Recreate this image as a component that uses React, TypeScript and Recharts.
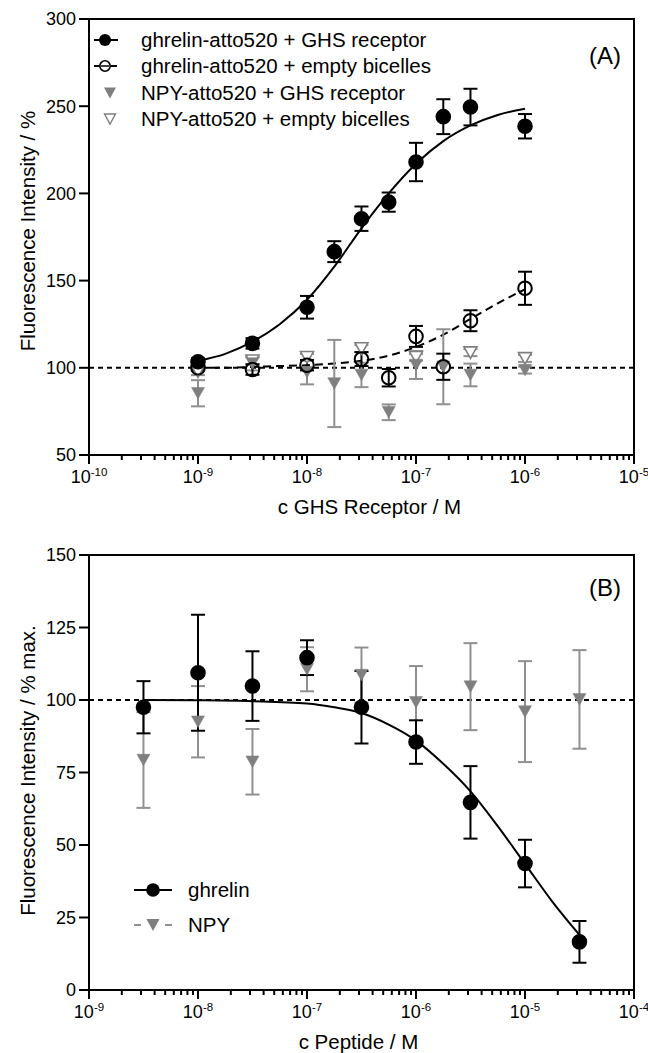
import React from 'react';
import {
  ComposedChart,
  Scatter,
  Line,
  XAxis,
  YAxis,
  ErrorBar,
  ReferenceLine,
  ReferenceArea,
  Legend,
} from 'recharts';

const FONT = '"Liberation Sans", Arial, Helvetica, sans-serif';
const BLACK = '#000000';
const GRAY = '#7f7f7f';
const GRAY_BAR = '#909090';

// ---------- Panel A data ----------
const concA = [1e-9, 3.16e-9, 1e-8, 1.78e-8, 3.16e-8, 5.62e-8, 1e-7, 1.78e-7, 3.16e-7, 1e-6];
const ghrelinGhsA = [103.5, 114, 134.7, 166.6, 185.5, 195, 218, 244, 249.5, 238.5];
const ghrelinGhsErrA = [2, 3, 6.5, 6, 7, 5.5, 11, 10, 10.5, 7];
const ghrelinEmptyA = [100, 99, 101.5, null, 105, 94.3, 118, 100.6, 127, 145.6];
const ghrelinEmptyErrA = [1.5, 3, 3, null, 4, 5, 6, 7.5, 6, 9.5];
const npyGhsA = [85.4, 102.5, 97.5, 91, 95.9, 74.5, 101.6, 100.6, 95.9, 98.7];
const npyGhsErrA = [7.5, 4, 7, 25, 7, 4.5, 8, 21.5, 6.5, 2];
const npyEmptyA = [97.8, 104, 106, null, 111, null, 106, null, 108.7, 105.4];
const npyEmptyErrA = [2, 2, 2, null, 2, null, 2, null, 2, 2];

// fitted curves
const fitXA = [1e-9, 1.78e-9, 3.16e-9, 5.62e-9, 1e-8, 1.78e-8, 3.16e-8, 5.62e-8, 1e-7, 1.78e-7, 3.16e-7, 5.62e-7, 1e-6];
const fitGhsA = [104, 108, 115, 125, 139, 158, 180, 200, 217, 230, 239, 245, 248.5];
const fitEmptyA = [100, 100, 100.5, 101, 101.5, 102.5, 104, 107, 112, 119, 128, 137, 145];

const yTicksA = [50, 100, 150, 200, 250, 300];
const decadesA = [-10, -9, -8, -7, -6, -5];
const legendLabelsA = [
  'ghrelin-atto520 + GHS receptor',
  'ghrelin-atto520 + empty bicelles',
  'NPY-atto520 + GHS receptor',
  'NPY-atto520 + empty bicelles',
];

// ---------- Panel B data ----------
const concB = [3.16e-9, 1e-8, 3.16e-8, 1e-7, 3.16e-7, 1e-6, 3.16e-6, 1e-5, 3.16e-5];
const ghrelinB = [97.5, 109.4, 104.8, 114.6, 97.5, 85.5, 64.7, 43.6, 16.6];
const ghrelinErrB = [9, 20, 12, 6, 12.5, 7.5, 12.5, 8.2, 7.2];
const npyB = [79.3, 92.5, 78.7, 110.6, 108.6, 99.2, 104.6, 96, 100.2];
const npyErrB = [16.5, 12.3, 11.3, 7.6, 9.5, 12.5, 15, 17.4, 17];

const fitXB = [3.16e-9, 1e-8, 3.16e-8, 1e-7, 1.78e-7, 3.16e-7, 5.62e-7, 1e-6, 1.78e-6, 3.16e-6, 5.62e-6, 1e-5, 1.78e-5, 3.16e-5];
const fitB = [100, 99.9, 99.6, 98.8, 97.5, 95.5, 91.5, 86, 78, 68.5, 56.5, 43.5, 30.5, 19];

const yTicksB = [0, 25, 50, 75, 100, 125, 150];
const decadesB = [-9, -8, -7, -6, -5, -4];
const legendLabelsB = ['ghrelin', 'NPY'];

// ---------- helpers ----------
const toPoints = (xs: number[], ys: (number | null)[], es: (number | null)[]) =>
  xs
    .map((x, i) => (ys[i] == null ? null : { x, y: ys[i] as number, err: (es[i] ?? 0) as number }))
    .filter((p) => p !== null) as { x: number; y: number; err: number }[];

const toCurve = (xs: number[], ys: number[]) => xs.map((x, i) => ({ x, y: ys[i] }));

const buildLogTicks = (decs: number[]) => {
  const t: number[] = [];
  decs.forEach((d, i) => {
    const base = Math.pow(10, d);
    if (i < decs.length - 1) {
      for (let m = 1; m < 10; m++) t.push(m * base);
    } else {
      t.push(base);
    }
  });
  return t;
};

function XTick(props: any) {
  const { x, y, payload } = props;
  const v = payload.value;
  const e = Math.round(Math.log10(v));
  const major = Math.abs(v / Math.pow(10, e) - 1) < 1e-6;
  return (
    <g>
      <line x1={x} x2={x} y1={y} y2={y + (major ? 9 : 5)} stroke={BLACK} strokeWidth={2} />
      {major && (
        <text x={x} y={y + 28} textAnchor="middle" fontFamily={FONT} fontSize={18} fill={BLACK}>
          10
          <tspan dy={-7.5} fontSize={11.5}>
            {String(e)}
          </tspan>
        </text>
      )}
    </g>
  );
}

const yTitle = (text: string, dy: number) => (p: any) => {
  const vb = p.viewBox || {};
  const x = (vb.x ?? 19) + 8;
  const y = (vb.y ?? 0) + (vb.height ?? 0) / 2 + dy;
  return (
    <text
      x={x}
      y={y}
      transform={`rotate(-90, ${x}, ${y})`}
      textAnchor="middle"
      dominantBaseline="central"
      fontFamily={FONT}
      fontSize={20.5}
      fill={BLACK}
    >
      {text}
    </text>
  );
};

const xTitle = (text: string, dx: number) => (p: any) => {
  const vb = p.viewBox || {};
  const x = (vb.x ?? 89) + (vb.width ?? 545) / 2 + dx;
  const y = (vb.y ?? 0) + 51;
  return (
    <text x={x} y={y} textAnchor="middle" dominantBaseline="central" fontFamily={FONT} fontSize={20.5} fill={BLACK}>
      {text}
    </text>
  );
};

const panelTag = (text: string, dy: number) => (p: any) => {
  const vb = p.viewBox || {};
  const x = (vb.x ?? 89) + (vb.width ?? 545) - 13;
  const y = (vb.y ?? 0) + dy;
  return (
    <text x={x} y={y} textAnchor="end" dominantBaseline="central" fontFamily={FONT} fontSize={24} fill={BLACK}>
      {text}
    </text>
  );
};

const circleShape = (fill: string, stroke: string) => (p: any) => (
  <circle cx={p.cx} cy={p.cy} r={6.8} fill={fill} stroke={stroke} strokeWidth={2} />
);

const triPath = (cx: number, cy: number, w: number, h: number) =>
  `M${cx - w},${cy - h} L${cx + w},${cy - h} L${cx},${cy + h} Z`;

const triShape = (fill: string, stroke: string, sw: number) => (p: any) => (
  <path d={triPath(p.cx, p.cy, 6.5, 5.8)} fill={fill} stroke={stroke} strokeWidth={sw} strokeLinejoin="miter" />
);

function symbolA(i: number) {
  if (i === 0)
    return (
      <g>
        <line x1={2} x2={26} y1={13} y2={13} stroke={BLACK} strokeWidth={2} />
        <circle cx={13} cy={13} r={6} fill={BLACK} />
      </g>
    );
  if (i === 1)
    return (
      <g>
        <line x1={2} x2={8} y1={13} y2={13} stroke={BLACK} strokeWidth={2} />
        <line x1={9} x2={17} y1={13} y2={13} stroke={BLACK} strokeWidth={1.5} />
        <line x1={19} x2={25} y1={13} y2={13} stroke={BLACK} strokeWidth={2} />
        <circle cx={13} cy={13} r={5.2} fill="none" stroke={BLACK} strokeWidth={1.6} />
      </g>
    );
  if (i === 2) return <path d={triPath(18, 13, 6, 5.5)} fill={GRAY} />;
  return <path d={triPath(18, 13, 5.5, 5)} fill="#fff" stroke={GRAY} strokeWidth={1.4} />;
}

function LegendA() {
  return (
    <div style={{ fontFamily: FONT, fontSize: 20.5, color: BLACK }}>
      {legendLabelsA.map((label, i) => (
        <div key={label} style={{ display: 'flex', alignItems: 'center', height: 26.3 }}>
          <svg width={44} height={26} style={{ display: 'block' }}>
            {symbolA(i)}
          </svg>
          <span style={{ marginLeft: 5, whiteSpace: 'nowrap', lineHeight: '26px' }}>{label}</span>
        </div>
      ))}
    </div>
  );
}

function symbolB(i: number) {
  if (i === 0)
    return (
      <g>
        <line x1={4} x2={42} y1={17} y2={17} stroke={BLACK} strokeWidth={2} />
        <circle cx={23} cy={17} r={6.8} fill={BLACK} />
      </g>
    );
  return (
    <g>
      <line x1={4} x2={11} y1={17} y2={17} stroke={GRAY_BAR} strokeWidth={2} />
      <line x1={35} x2={42} y1={17} y2={17} stroke={GRAY_BAR} strokeWidth={2} />
      <path d={triPath(23, 17, 6.5, 6)} fill={GRAY} />
    </g>
  );
}

function LegendB() {
  return (
    <div style={{ fontFamily: FONT, fontSize: 20.5, color: BLACK }}>
      {legendLabelsB.map((label, i) => (
        <div key={label} style={{ display: 'flex', alignItems: 'center', height: 35 }}>
          <svg width={46} height={34} style={{ display: 'block' }}>
            {symbolB(i)}
          </svg>
          <span style={{ marginLeft: 12, whiteSpace: 'nowrap', lineHeight: '34px' }}>{label}</span>
        </div>
      ))}
    </div>
  );
}

const axisLine = { stroke: BLACK, strokeWidth: 2 };
const yTickStyle = { fill: BLACK, fontSize: 18, fontFamily: FONT };

function ChartA() {
  const ticks = buildLogTicks(decadesA);
  return (
    <ComposedChart width={648} height={530} margin={{ top: 19, right: 14, bottom: 15, left: 19 }} style={{ fontFamily: FONT }}>
      <XAxis
        dataKey="x"
        type="number"
        scale="log"
        domain={[1e-10, 1e-5]}
        allowDataOverflow
        ticks={ticks}
        interval={0}
        tick={XTick}
        tickLine={false}
        tickSize={0}
        tickMargin={0}
        axisLine={axisLine}
        height={60}
        label={xTitle('c GHS Receptor / M', 8)}
      />
      <YAxis
        dataKey="y"
        type="number"
        domain={[50, 300]}
        allowDataOverflow
        ticks={yTicksA}
        interval={0}
        width={70}
        tickSize={10}
        tickMargin={3}
        tick={yTickStyle}
        tickLine={axisLine}
        axisLine={axisLine}
        label={yTitle('Fluorescence Intensity / %', -6)}
      />
      <ReferenceArea
        x1={1e-10}
        x2={1e-5}
        y1={50}
        y2={300}
        fill="none"
        fillOpacity={0}
        stroke={BLACK}
        strokeWidth={2}
        ifOverflow="visible"
        label={panelTag('(A)', 36)}
      />
      <ReferenceLine y={100} stroke={BLACK} strokeWidth={2} strokeDasharray="5 4" />
      <Line data={toCurve(fitXA, fitGhsA)} dataKey="y" type="monotone" stroke={BLACK} strokeWidth={2} dot={false} activeDot={false} isAnimationActive={false} legendType="none" />
      <Line data={toCurve(fitXA, fitEmptyA)} dataKey="y" type="monotone" stroke={BLACK} strokeWidth={2} strokeDasharray="8 5" dot={false} activeDot={false} isAnimationActive={false} legendType="none" />
      <Scatter data={toPoints(concA, npyEmptyA, npyEmptyErrA)} shape={triShape('#ffffff', GRAY, 1.6)} isAnimationActive={false}>
        <ErrorBar dataKey="err" direction="y" width={7} stroke={GRAY_BAR} strokeWidth={2} />
      </Scatter>
      <Scatter data={toPoints(concA, npyGhsA, npyGhsErrA)} shape={triShape(GRAY, GRAY, 0.5)} isAnimationActive={false}>
        <ErrorBar dataKey="err" direction="y" width={7} stroke={GRAY_BAR} strokeWidth={2} />
      </Scatter>
      <Scatter data={toPoints(concA, ghrelinEmptyA, ghrelinEmptyErrA)} shape={circleShape('none', BLACK)} isAnimationActive={false}>
        <ErrorBar dataKey="err" direction="y" width={7} stroke={BLACK} strokeWidth={2} />
      </Scatter>
      <Scatter data={toPoints(concA, ghrelinGhsA, ghrelinGhsErrA)} shape={circleShape(BLACK, BLACK)} isAnimationActive={false}>
        <ErrorBar dataKey="err" direction="y" width={7} stroke={BLACK} strokeWidth={2} />
      </Scatter>
      <Legend
        content={<LegendA />}
        layout="vertical"
        verticalAlign="middle"
        align="center"
        wrapperStyle={{ top: 27, left: 92, width: 'auto', height: 'auto' }}
      />
    </ComposedChart>
  );
}

function ChartB() {
  const ticks = buildLogTicks(decadesB);
  return (
    <ComposedChart width={648} height={523} margin={{ top: 25, right: 14, bottom: 13, left: 19 }} style={{ fontFamily: FONT }}>
      <XAxis
        dataKey="x"
        type="number"
        scale="log"
        domain={[1e-9, 1e-4]}
        allowDataOverflow
        ticks={ticks}
        interval={0}
        tick={XTick}
        tickLine={false}
        tickSize={0}
        tickMargin={0}
        axisLine={axisLine}
        height={50}
        label={xTitle('c Peptide / M', -3)}
      />
      <YAxis
        dataKey="y"
        type="number"
        domain={[0, 150]}
        allowDataOverflow
        ticks={yTicksB}
        interval={0}
        width={70}
        tickSize={10}
        tickMargin={3}
        tick={yTickStyle}
        tickLine={axisLine}
        axisLine={axisLine}
        label={yTitle('Fluorescence Intensity / % max.', -2)}
      />
      <ReferenceArea
        x1={1e-9}
        x2={1e-4}
        y1={0}
        y2={150}
        fill="none"
        fillOpacity={0}
        stroke={BLACK}
        strokeWidth={2}
        ifOverflow="visible"
        label={panelTag('(B)', 32)}
      />
      <ReferenceLine y={100} stroke={BLACK} strokeWidth={2} strokeDasharray="5 4" />
      <Line data={toCurve(fitXB, fitB)} dataKey="y" type="monotone" stroke={BLACK} strokeWidth={2} dot={false} activeDot={false} isAnimationActive={false} legendType="none" />
      <Scatter data={toPoints(concB, npyB, npyErrB)} shape={triShape(GRAY, GRAY, 0.5)} isAnimationActive={false}>
        <ErrorBar dataKey="err" direction="y" width={7} stroke={GRAY_BAR} strokeWidth={2} />
      </Scatter>
      <Scatter data={toPoints(concB, ghrelinB, ghrelinErrB)} shape={circleShape(BLACK, BLACK)} isAnimationActive={false}>
        <ErrorBar dataKey="err" direction="y" width={7} stroke={BLACK} strokeWidth={2} />
      </Scatter>
      <Legend
        content={<LegendB />}
        layout="vertical"
        verticalAlign="middle"
        align="center"
        wrapperStyle={{ top: 342, left: 130, width: 'auto', height: 'auto' }}
      />
    </ComposedChart>
  );
}

export default function App() {
  return (
    <div style={{ position: 'absolute', left: 0, top: 0, width: 648, height: 1053, background: '#ffffff', fontFamily: FONT }}>
      <ChartA />
      <ChartB />
    </div>
  );
}
